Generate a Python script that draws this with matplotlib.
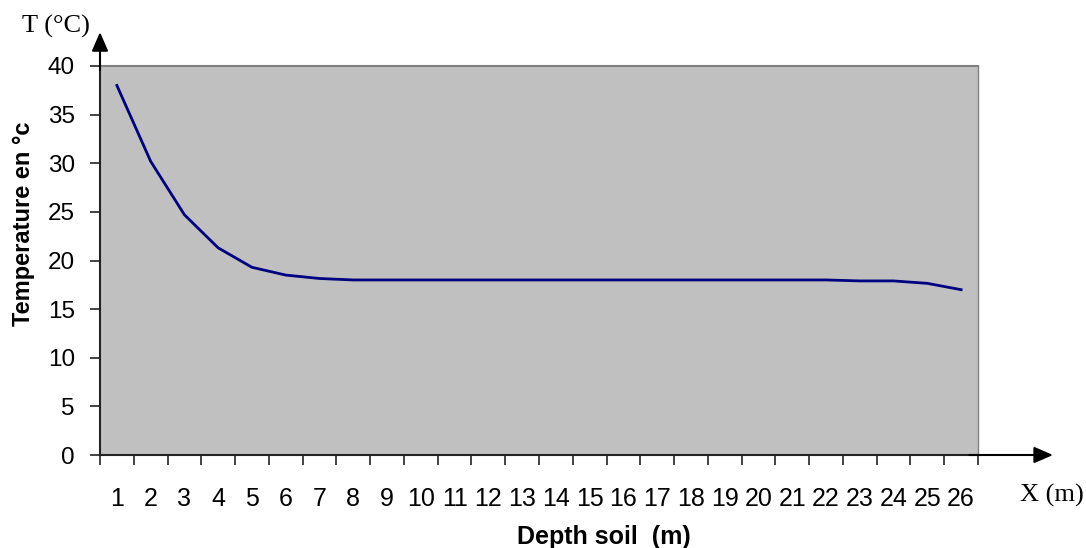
import matplotlib
matplotlib.use("Agg")
import matplotlib.pyplot as plt
import numpy as np

depth = list(range(1, 27))
temperature = [38.0, 30.2, 24.7, 21.3, 19.3, 18.5, 18.15, 18.0, 18.0, 18.0,
               18.0, 18.0, 18.0, 18.0, 18.0, 18.0, 18.0, 18.0, 18.0, 18.0,
               18.0, 18.0, 17.9, 17.9, 17.65, 17.0]
y_ticks = [0, 5, 10, 15, 20, 25, 30, 35, 40]

fig = plt.figure(figsize=(10.86, 5.48), dpi=100)
ax = fig.add_axes([100/1086, 1-455/548, 878/1086, 389/548])
ax.set_facecolor("#C0C0C0")

ax.plot(depth, temperature, color="#000080", lw=2.0, solid_joinstyle="round")

ax.set_xlim(0.5, 26.5)
ax.set_ylim(0, 40)

# category boundaries ticks (major), labels at centres (minor)
ax.set_xticks(np.arange(0.5, 27, 1.0))
ax.set_xticklabels([])
ax.set_xticks(depth, minor=True)
ax.set_xticklabels([str(d) for d in depth], minor=True)
ax.tick_params(axis="x", which="major", length=7, width=1.2, direction="out", color="#222222")
ax.tick_params(axis="x", which="minor", length=0, pad=23, labelsize=18)

ax.set_yticks(y_ticks)
ax.set_yticklabels([str(v) for v in y_ticks])
ax.tick_params(axis="y", length=7, width=1.2, direction="out", pad=11, labelsize=17.5, color="#222222")

for lab in ax.get_xticklabels(minor=True) + ax.get_yticklabels():
    lab.set_family(["Liberation Sans", "DejaVu Sans"])

ax.spines["left"].set_color("#222222")
ax.spines["left"].set_linewidth(1.5)
ax.spines["bottom"].set_color("#222222")
ax.spines["bottom"].set_linewidth(1.5)
ax.spines["top"].set_color("#808080")
ax.spines["top"].set_linewidth(1.5)
ax.spines["right"].set_color("#808080")
ax.spines["right"].set_linewidth(1.0)

# arrows
arrow_style = "-|>,head_length=1.15,head_width=0.5"
ax.annotate("", xy=(0, 1.087), xytext=(0, 0.99), xycoords="axes fraction",
            arrowprops=dict(arrowstyle=arrow_style, mutation_scale=10, color="black",
                            lw=1.5, shrinkA=0, shrinkB=0), annotation_clip=False)
ax.annotate("", xy=(1.0854, 0), xytext=(0.99, 0), xycoords="axes fraction",
            arrowprops=dict(arrowstyle=arrow_style, mutation_scale=10, color="black",
                            lw=1.5, shrinkA=0, shrinkB=0), annotation_clip=False)

fig.text(24/1086, 1-224/548, "Temperature en °c", rotation=90, ha="center", va="center",
         fontsize=17, fontweight="bold", family=["Liberation Sans", "DejaVu Sans"])
fig.text(604/1086, 1-537/548, "Depth soil  (m)", ha="center", va="center",
         fontsize=18, fontweight="bold", family=["Liberation Sans", "DejaVu Sans"])
fig.text(56/1086, 1-26/548, "T (°C)", ha="center", va="center",
         fontsize=19, family=["Liberation Serif", "DejaVu Serif"])
fig.text(1052/1086, 1-495/548, "X (m)", ha="center", va="center",
         fontsize=19, family=["Liberation Serif", "DejaVu Serif"])

fig.savefig("out.png", dpi=100)
